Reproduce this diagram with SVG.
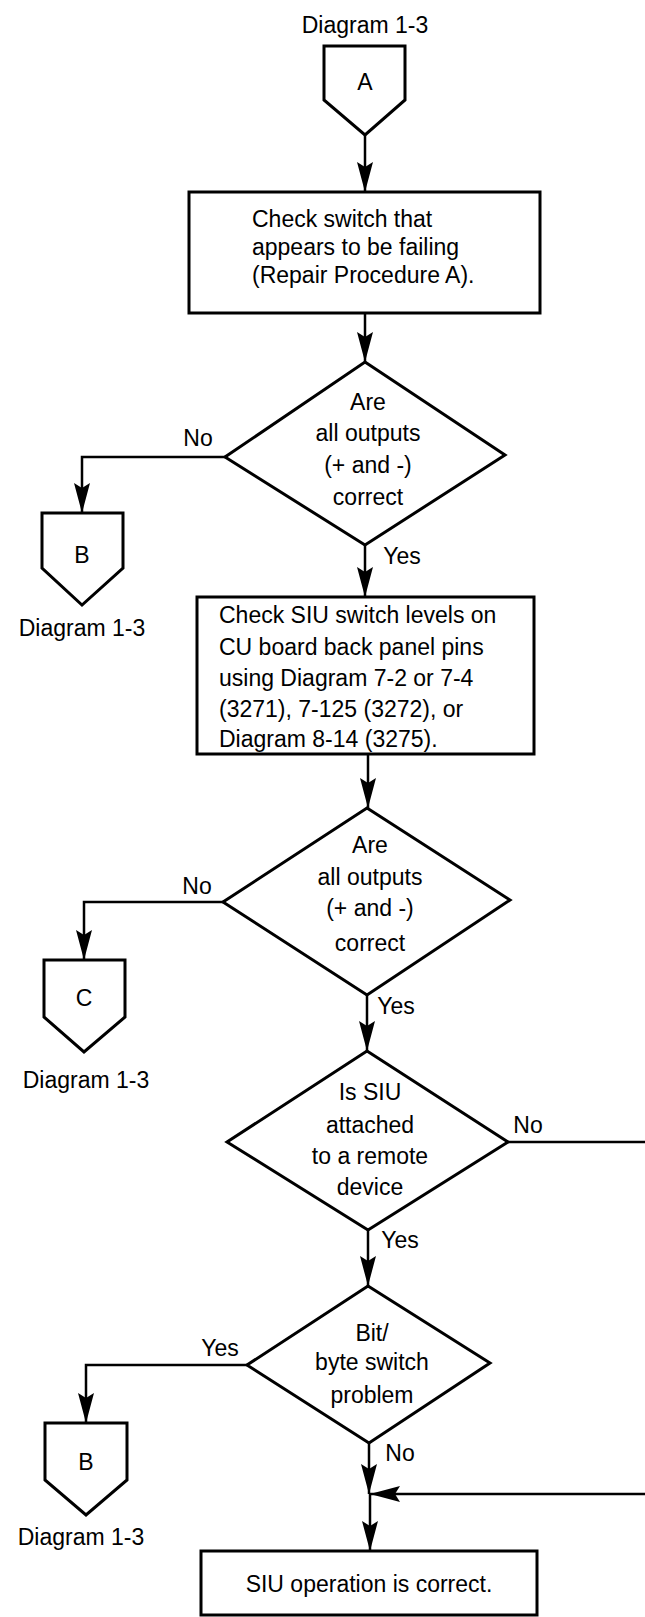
<svg xmlns="http://www.w3.org/2000/svg" width="645" height="1617" viewBox="0 0 645 1617">
<style>
.shape{fill:#fff;stroke:#000;stroke-width:3;stroke-linejoin:miter}
.conn{fill:none;stroke:#000;stroke-width:2.5}
text{font-family:"Liberation Sans",Arial,sans-serif;font-size:23px;fill:#000}
.c{text-anchor:middle}
</style>
<defs>
<marker id="arr" markerUnits="userSpaceOnUse" markerWidth="32" markerHeight="18" refX="30" refY="8" orient="auto">
<path d="M0,0 L30,8 L0,16 L5,8 z" fill="#000"/>
</marker>
</defs>
<rect width="645" height="1617" fill="#fff"/>
<g id="connectors">
<path class="conn" d="M365,135 V192" marker-end="url(#arr)"/>
<path class="conn" d="M365,313 V362" marker-end="url(#arr)"/>
<path class="conn" d="M225,457 H82 V513" marker-end="url(#arr)"/>
<path class="conn" d="M365,545 V597" marker-end="url(#arr)"/>
<path class="conn" d="M368,754 V808" marker-end="url(#arr)"/>
<path class="conn" d="M224,902 H84 V960" marker-end="url(#arr)"/>
<path class="conn" d="M367,995 V1051" marker-end="url(#arr)"/>
<path class="conn" d="M508,1142 H645"/>
<path class="conn" d="M368,1230 V1286" marker-end="url(#arr)"/>
<path class="conn" d="M247,1365 H86 V1423" marker-end="url(#arr)"/>
<path class="conn" d="M369,1443 V1494" marker-end="url(#arr)"/>
<path class="conn" d="M645,1494 H370" marker-end="url(#arr)"/>
<path class="conn" d="M370,1494 V1551" marker-end="url(#arr)"/>
</g>
<g id="offpageA">
<text class="c" x="365" y="33">Diagram 1-3</text>
<polygon class="shape" points="324,46 405,46 405,100 365,135 324,100"/>
<text class="c" x="365" y="90">A</text>
</g>
<g id="box1">
<rect class="shape" x="189" y="192" width="351" height="121"/>
<text x="252" y="227">Check switch that</text>
<text x="252" y="255">appears to be failing</text>
<text x="252" y="283">(Repair Procedure A).</text>
</g>
<g id="decision1">
<polygon class="shape" points="365,362 505,455 365,545 225,457"/>
<text class="c" x="368" y="410">Are</text>
<text class="c" x="368" y="441">all outputs</text>
<text class="c" x="368" y="473">(+ and -)</text>
<text class="c" x="368" y="505">correct</text>
<text class="c" x="198" y="446">No</text>
<text class="c" x="402" y="564">Yes</text>
</g>
<g id="offpageB1">
<polygon class="shape" points="42,513 123,513 123,568 82,605 42,568"/>
<text class="c" x="82" y="563">B</text>
<text class="c" x="82" y="636">Diagram 1-3</text>
</g>
<g id="box2">
<rect class="shape" x="197" y="597" width="337" height="157"/>
<text x="219" y="623">Check SIU switch levels on</text>
<text x="219" y="655">CU board back panel pins</text>
<text x="219" y="686">using Diagram 7-2 or 7-4</text>
<text x="219" y="717">(3271), 7-125 (3272), or</text>
<text x="219" y="747">Diagram 8-14 (3275).</text>
</g>
<g id="decision2">
<polygon class="shape" points="367,808 510,900 367,995 223,902"/>
<text class="c" x="370" y="853">Are</text>
<text class="c" x="370" y="885">all outputs</text>
<text class="c" x="370" y="916">(+ and -)</text>
<text class="c" x="370" y="951">correct</text>
<text class="c" x="197" y="894">No</text>
<text class="c" x="396" y="1014">Yes</text>
</g>
<g id="offpageC">
<polygon class="shape" points="44,960 125,960 125,1017 84,1052 44,1017"/>
<text class="c" x="84" y="1006">C</text>
<text class="c" x="86" y="1088">Diagram 1-3</text>
</g>
<g id="decision3">
<polygon class="shape" points="367,1051 508,1142 368,1230 227,1142"/>
<text class="c" x="370" y="1100">Is SIU</text>
<text class="c" x="370" y="1133">attached</text>
<text class="c" x="370" y="1164">to a remote</text>
<text class="c" x="370" y="1195">device</text>
<text class="c" x="528" y="1133">No</text>
<text class="c" x="400" y="1248">Yes</text>
</g>
<g id="decision4">
<polygon class="shape" points="368,1286 490,1363 369,1443 247,1365"/>
<text class="c" x="372" y="1341">Bit/</text>
<text class="c" x="372" y="1370">byte switch</text>
<text class="c" x="372" y="1403">problem</text>
<text class="c" x="220" y="1356">Yes</text>
<text class="c" x="400" y="1461">No</text>
</g>
<g id="offpageB2">
<polygon class="shape" points="45,1423 127,1423 127,1480 86,1515 45,1480"/>
<text class="c" x="86" y="1470">B</text>
<text class="c" x="81" y="1545">Diagram 1-3</text>
</g>
<g id="box3">
<rect class="shape" x="201" y="1551" width="336" height="64"/>
<text class="c" x="369" y="1592">SIU operation is correct.</text>
</g>
</svg>
